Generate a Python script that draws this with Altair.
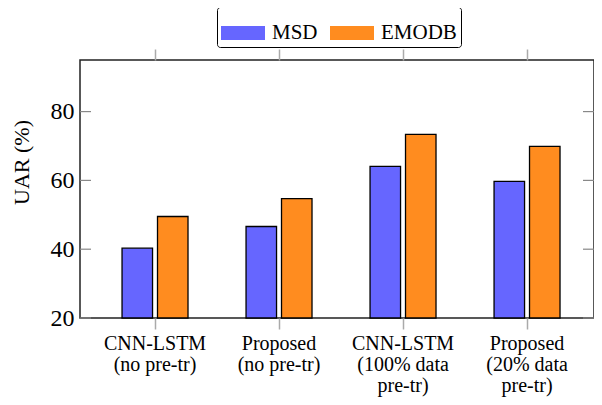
import altair as alt
import pandas as pd

categories = [
    "CNN-LSTM\n(no pre-tr)",
    "Proposed\n(no pre-tr)",
    "CNN-LSTM\n(100% data\npre-tr)",
    "Proposed\n(20% data\npre-tr)",
]
series = ["MSD", "EMODB"]
msd = [40.3, 46.6, 64.1, 59.7]
emodb = [49.5, 54.7, 73.4, 69.9]
yticks = [20, 40, 60, 80]
colors = ["#6666ff", "#ff8c1f"]

rows = []
for c, a, b in zip(categories, msd, emodb):
    rows.append({"cat": c, "series": "MSD", "val": a})
    rows.append({"cat": c, "series": "EMODB", "val": b})
df = pd.DataFrame(rows)
tick_df = pd.DataFrame({"t": yticks})

W, H = 514, 258
FONT = "Liberation Serif, Times New Roman, serif"

xscale = alt.Scale(domain=categories, paddingInner=0.468, paddingOuter=0.3065, align=0.553)
yscale = alt.Scale(domain=[20, 95], nice=False, zero=False)

bars = alt.Chart(df).mark_bar(stroke="black", strokeWidth=1.3).encode(
    x=alt.X("cat:N", sort=categories, scale=xscale, title=None,
            axis=alt.Axis(orient="bottom", domain=False, tickSize=11, tickColor="#aaaaaa",
                          tickWidth=1.5, labelAngle=0, labelFont=FONT, labelFontSize=20,
                          labelColor="black", labelPadding=4, labelLineHeight=21,
                          labelExpr="split(datum.label, '\\n')", labelBaseline="top")),
    xOffset=alt.XOffset("series:N", sort=series,
                        scale=alt.Scale(domain=series, paddingInner=0.14, paddingOuter=0)),
    y=alt.Y("val:Q", scale=yscale, title="UAR (%)",
            axis=alt.Axis(values=yticks, domain=False, ticks=False, labelFont=FONT,
                          labelFontSize=24, labelColor="black", labelPadding=6,
                          titleFont=FONT, titleFontSize=22, titleFontWeight="normal",
                          titleColor="black", titleX=-59, titleY=102, titleAngle=-90,
                          titleBaseline="middle", titleAlign="center", grid=False)),
    y2=alt.datum(20),
    color=alt.Color("series:N", sort=series,
                    scale=alt.Scale(domain=series, range=colors),
                    legend=alt.Legend(title=None, orient="none", legendX=137, legendY=-53,
                                      direction="horizontal", labelFont=FONT, labelFontSize=21,
                                      labelColor="black", symbolType="M-1,-0.32L1,-0.32L1,0.32L-1,0.32Z",
                                      symbolSize=1936, symbolStrokeWidth=0, symbolOpacity=1,
                                      labelOffset=7, columnPadding=12, padding=4,
                                      strokeColor="black", fillColor="white", cornerRadius=3,
                                      symbolLimit=0)),
)

top_axis = alt.Chart(df).mark_point(opacity=0).encode(
    x=alt.X("cat:N", sort=categories, scale=xscale, title=None,
            axis=alt.Axis(orient="top", domain=False, labels=False, tickSize=11,
                          tickColor="#aaaaaa", tickWidth=1.5)),
)

left_ticks = alt.Chart(tick_df).mark_rule(color="#888888", strokeWidth=1.2).encode(
    y=alt.Y("t:Q", scale=yscale),
    x=alt.value(0), x2=alt.value(11),
)
right_ticks = alt.Chart(tick_df).mark_rule(color="#888888", strokeWidth=1.2).encode(
    y=alt.Y("t:Q", scale=yscale),
    x=alt.value(W - 11), x2=alt.value(W),
)

chart = alt.layer(bars, top_axis, left_ticks, right_ticks).resolve_axis(
    x="independent"
).properties(
    width=W, height=H,
    autosize=alt.AutoSizeParams(type="none"),
    padding={"left": 72, "top": 52, "right": 0, "bottom": 79},
).configure_view(
    stroke="#222222", strokeWidth=1.5
)

chart.save("out.html", embed_options={"renderer": "svg", "actions": False})
